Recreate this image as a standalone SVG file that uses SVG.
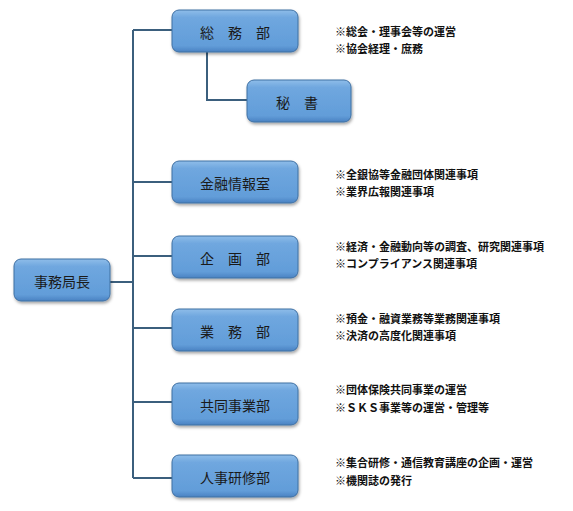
<svg xmlns="http://www.w3.org/2000/svg" width="573" height="511" viewBox="0 0 573 511">
<defs>
<linearGradient id="bg" x1="0" y1="0" x2="0" y2="1">
<stop offset="0" stop-color="#8fbde9"/>
<stop offset="0.18" stop-color="#6fa7df"/>
<stop offset="0.85" stop-color="#629dd9"/>
<stop offset="1" stop-color="#4a82c2"/>
</linearGradient>
<filter id="sh" x="-10%" y="-10%" width="125%" height="140%">
<feDropShadow dx="1" dy="2" stdDeviation="1.5" flood-color="#000" flood-opacity="0.35"/>
</filter>
</defs>
<style>
.box{fill:url(#bg);stroke:#3f70a3;stroke-width:1;filter:url(#sh)}
.lbl{font-family:"Noto Sans CJK JP","Noto Sans CJK SC",sans-serif;font-size:14px;fill:#1a1a1a;text-anchor:middle;dominant-baseline:central}
.note{font-family:"Noto Sans CJK JP","Noto Sans CJK SC",sans-serif;font-size:11px;font-weight:700;fill:#111}
.conn{fill:none;stroke:#3b5f7d;stroke-width:2}
</style>
<rect width="573" height="511" fill="#fff"/>
<g id="connectors">
<path class="conn" d="M110,282 H133 M133,30 V478 M133,30 H172 M133,182 H172 M133,256 H172 M133,328 H172 M133,402 H172 M133,478 H172"/>
<path class="conn" d="M207,52 V100 H247"/>
</g>
<g id="n-chief">
<rect class="box" x="14" y="259" width="96" height="42" rx="7"/>
<text class="lbl" x="62" y="281">事務局長</text>
</g>
<g id="n-soumu">
<rect class="box" x="172" y="10" width="126" height="42" rx="7"/>
<text class="lbl" x="235" y="32">総　務　部</text>
</g>
<g id="n-hisho">
<rect class="box" x="247" y="80" width="104" height="42" rx="7"/>
<text class="lbl" x="297" y="102">秘　書</text>
</g>
<g id="n-kinyu">
<rect class="box" x="172" y="161" width="126" height="42" rx="7"/>
<text class="lbl" x="235" y="183">金融情報室</text>
</g>
<g id="n-kikaku">
<rect class="box" x="172" y="236" width="126" height="42" rx="7"/>
<text class="lbl" x="235" y="258">企　画　部</text>
</g>
<g id="n-gyomu">
<rect class="box" x="172" y="309" width="126" height="42" rx="7"/>
<text class="lbl" x="235" y="331">業　務　部</text>
</g>
<g id="n-kyodo">
<rect class="box" x="172" y="383" width="126" height="42" rx="7"/>
<text class="lbl" x="235" y="405">共同事業部</text>
</g>
<g id="n-jinji">
<rect class="box" x="172" y="455" width="126" height="42" rx="7"/>
<text class="lbl" x="235" y="477">人事研修部</text>
</g>
<g id="notes">
<text class="note" x="335" y="36">※総会・理事会等の運営</text>
<text class="note" x="335" y="53">※協会経理・庶務</text>
<text class="note" x="335" y="179">※全銀協等金融団体関連事項</text>
<text class="note" x="335" y="196">※業界広報関連事項</text>
<text class="note" x="335" y="251">※経済・金融動向等の調査、研究関連事項</text>
<text class="note" x="335" y="268">※コンプライアンス関連事項</text>
<text class="note" x="335" y="323">※預金・融資業務等業務関連事項</text>
<text class="note" x="335" y="340">※決済の高度化関連事項</text>
<text class="note" x="335" y="394">※団体保険共同事業の運営</text>
<text class="note" x="335" y="412">※ＳＫＳ事業等の運営・管理等</text>
<text class="note" x="335" y="467">※集合研修・通信教育講座の企画・運営</text>
<text class="note" x="335" y="485">※機関誌の発行</text>
</g>
</svg>
